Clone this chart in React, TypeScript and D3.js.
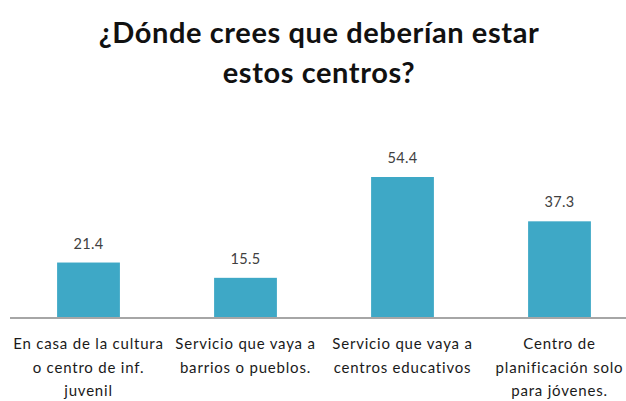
import React, { useEffect, useRef } from "react";
import * as d3 from "d3";

const categories = [
  ["En casa de la cultura", "o centro de inf.", "juvenil"],
  ["Servicio que vaya a", "barrios o pueblos."],
  ["Servicio que vaya a", "centros educativos"],
  ["Centro de", "planificación solo", "para jóvenes."],
];
const values = [21.4, 15.5, 54.4, 37.3];
const titleLines = ["¿Dónde crees que deberían estar", "estos centros?"];

const App: React.FC = () => {
  const chartRef = useRef<SVGSVGElement>(null);

  useEffect(() => {
    document.body.style.margin = "0";
    const width = 626;
    const height = 401;
    const baseline = 318;

    const svg = d3.select(chartRef.current);
    svg.selectAll("*").remove();

    svg.append("rect").attr("width", width).attr("height", height).attr("fill", "#ffffff");

    // Title
    svg
      .append("g")
      .selectAll("text")
      .data(titleLines)
      .enter()
      .append("text")
      .attr("x", 319)
      .attr("y", (d, i) => 43 + i * 40)
      .attr("text-anchor", "middle")
      .style("font-family", "Lato, 'Open Sans', sans-serif")
      .style("font-weight", "bold")
      .style("font-size", "29px")
      .style("letter-spacing", "0.6px")
      .style("fill", "#111111")
      .text((d) => d);

    const x = d3
      .scaleBand<number>()
      .domain(d3.range(values.length))
      .range([10, 638])
      .paddingInner(0.6)
      .paddingOuter(0.3);

    const y = d3.scaleLinear().domain([0, 54.4]).range([baseline, 177]);

    svg
      .append("g")
      .selectAll("rect")
      .data(values)
      .enter()
      .append("rect")
      .attr("x", (d, i) => x(i)!)
      .attr("y", (d) => y(d))
      .attr("width", x.bandwidth())
      .attr("height", (d) => baseline - y(d))
      .attr("fill", "#3ea8c6");

    // axis line
    svg
      .append("line")
      .attr("x1", 10)
      .attr("x2", width)
      .attr("y1", baseline)
      .attr("y2", baseline)
      .attr("stroke", "#a6a6a6")
      .attr("stroke-width", 2);

    // value labels
    svg
      .append("g")
      .selectAll("text")
      .data(values)
      .enter()
      .append("text")
      .attr("x", (d, i) => x(i)! + x.bandwidth() / 2)
      .attr("y", (d) => y(d) - 14)
      .attr("text-anchor", "middle")
      .style("font-family", "Lato, sans-serif")
      .style("font-size", "14.5px")
      .style("letter-spacing", "0.3px")
      .style("fill", "#404040")
      .text((d) => d.toFixed(1));

    // category labels
    const cat = svg
      .append("g")
      .selectAll("text")
      .data(categories)
      .enter()
      .append("text")
      .attr("text-anchor", "middle")
      .style("font-family", "Lato, sans-serif")
      .style("font-size", "15px")
      .style("letter-spacing", "0.8px")
      .style("fill", "#1a1a1a");

    cat
      .selectAll("tspan")
      .data((d, i) => d.map((line) => ({ line, i })))
      .enter()
      .append("tspan")
      .attr("x", (d) => x(d.i)! + x.bandwidth() / 2)
      .attr("y", (d, j) => 349 + j * 23.5)
      .text((d) => d.line);
  }, []);

  return <svg ref={chartRef} width={626} height={401} style={{ display: "block" }}></svg>;
};

export default App;
